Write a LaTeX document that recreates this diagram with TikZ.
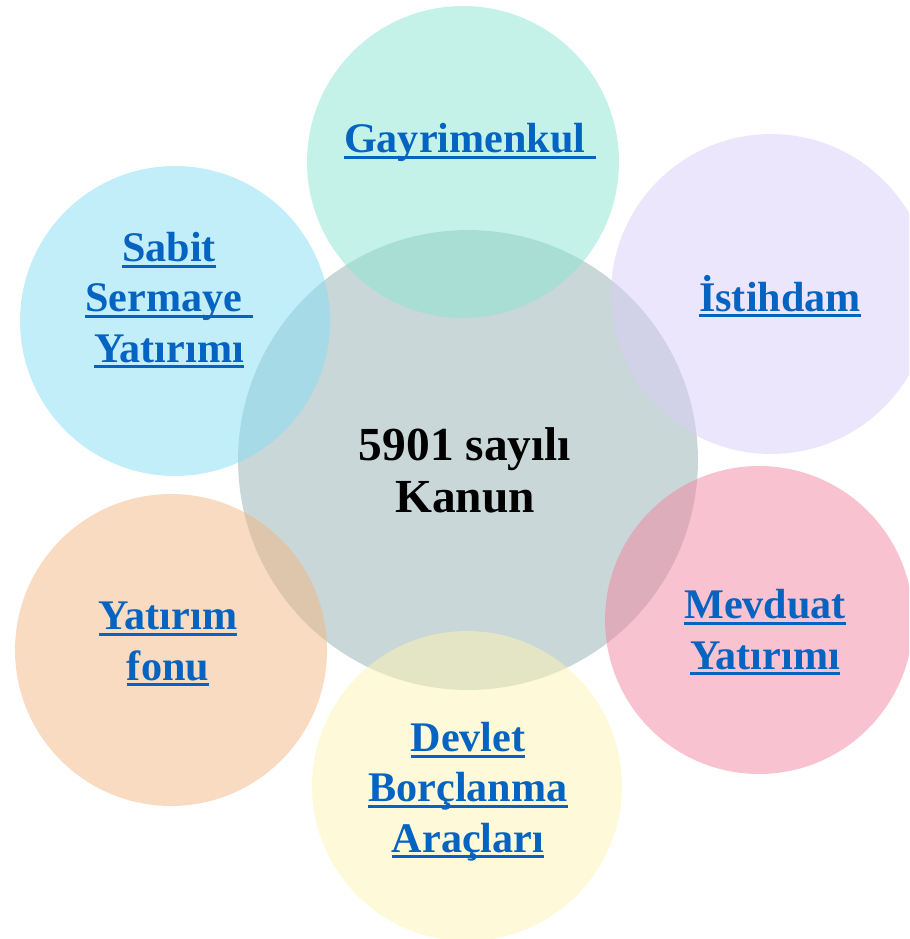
\documentclass[tikz,border=0pt]{standalone}
\usepackage{fontspec}
\setmainfont{Liberation Serif}

\definecolor{kanungray}{RGB}{201,215,216}
\definecolor{mintbase}{RGB}{137,229,209}
\definecolor{lavbase}{RGB}{217,205,249}
\definecolor{pinkbase}{RGB}{241,133,161}
\definecolor{yellowbase}{RGB}{253,243,177}
\definecolor{peachbase}{RGB}{241,183,129}
\definecolor{cyanbase}{RGB}{133,221,245}
\definecolor{linkblue}{RGB}{5,99,193}

% underlined link text
\newcommand{\ulnk}[1]{\setbox0\hbox{#1}\rlap{\rule[-3.6pt]{\wd0}{1.7pt}}\box0}

\tikzset{
  bubble/.style={circle, inner sep=0pt, fill=#1, fill opacity=0.5},
  linktext/.style={text=linkblue, font=\fontsize{24}{28.5}\selectfont\bfseries, align=center, anchor=base, inner sep=0pt},
  kanuntext/.style={text=black, font=\fontsize{27}{29.5}\selectfont\bfseries, align=center, anchor=base, inner sep=0pt},
}

\begin{document}
\begin{tikzpicture}[x=0.02cm,y=-0.02cm]
  \useasboundingbox (0,0) rectangle (909,939);
  \clip (0,0) rectangle (909,939);
  % center
  \node[circle, inner sep=0pt, fill=kanungray, minimum size=9.2cm] (kanun) at (468,460) {};
  % outer circles
  \node[bubble=mintbase, minimum size=6.24cm] (gayri) at (463,162) {};
  \node[bubble=lavbase, minimum size=6.4cm] (istihdam) at (771,294) {};
  \node[bubble=pinkbase, minimum size=6.16cm] (mevduat) at (759,620) {};
  \node[bubble=yellowbase, minimum size=6.2cm] (devlet) at (467,786) {};
  \node[bubble=peachbase, minimum size=6.24cm] (fon) at (171,650) {};
  \node[bubble=cyanbase, minimum size=6.2cm] (sabit) at (175,321) {};
  % labels (base = last line)
  \node[kanuntext] (kanuntxt) at (465,512) {5901 sayılı\\Kanun};
  \node[linktext] (gayritxt) at (470,153) {\ulnk{Gayrimenkul\ }};
  \node[linktext] (istihdamtxt) at (780,311) {\ulnk{İstihdam}};
  \node[linktext] (mevduattxt) at (765,669) {\ulnk{Mevduat}\\\ulnk{Yatırımı}};
  \node[linktext] (devlettxt) at (468,852) {\ulnk{Devlet}\\\ulnk{Borçlanma}\\\ulnk{Araçları}};
  \node[linktext] (fontxt) at (168,680) {\ulnk{Yatırım}\\\ulnk{fonu}};
  \node[linktext] (sabittxt) at (169,362) {\ulnk{Sabit}\\\ulnk{Sermaye\ }\\\ulnk{Yatırımı}};
\end{tikzpicture}
\end{document}
